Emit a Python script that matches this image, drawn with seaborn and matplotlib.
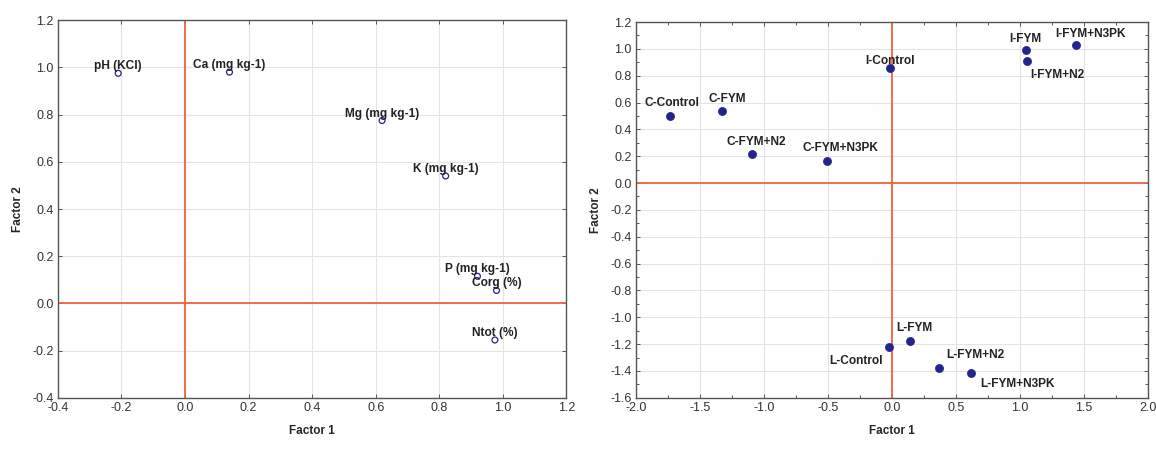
import numpy as np
import pandas as pd
import matplotlib
matplotlib.use("Agg")
import matplotlib.pyplot as plt
import seaborn as sns

# left panel: variable loadings
var_names = ["pH (KCl)", "Ca (mg kg-1)", "Mg (mg kg-1)", "K (mg kg-1)",
             "P (mg kg-1)", "Corg (%)", "Ntot (%)"]
var_f1 = [-0.21, 0.14, 0.62, 0.82, 0.92, 0.98, 0.975]
var_f2 = [0.975, 0.98, 0.775, 0.54, 0.115, 0.055, -0.155]

# right panel: treatment scores
trt_names = ["I-Control", "I-FYM", "I-FYM+N2", "I-FYM+N3PK",
             "C-Control", "C-FYM", "C-FYM+N2", "C-FYM+N3PK",
             "L-Control", "L-FYM", "L-FYM+N2", "L-FYM+N3PK"]
trt_f1 = [-0.015, 1.045, 1.055, 1.44, -1.73, -1.33, -1.09, -0.51,
          -0.02, 0.145, 0.37, 0.62]
trt_f2 = [0.855, 0.99, 0.91, 1.025, 0.50, 0.535, 0.215, 0.165,
          -1.225, -1.175, -1.375, -1.415]

# label offsets in points (dx, dy)
trt_offsets = {
    "I-Control": (0, 5), "I-FYM": (0, 8), "I-FYM+N2": (22, -10),
    "I-FYM+N3PK": (10, 8), "C-Control": (1, 9), "C-FYM": (4, 9),
    "C-FYM+N2": (3, 9), "C-FYM+N3PK": (10, 9), "L-Control": (-24, -10),
    "L-FYM": (3, 9), "L-FYM+N2": (26, 9), "L-FYM+N3PK": (33, -8),
}

sns.set_style("whitegrid", {"grid.color": "#e4e4e4", "axes.edgecolor": "#555555"})
plt.rcParams["font.family"] = ["Liberation Sans", "DejaVu Sans"]

df_var = pd.DataFrame({"f1": var_f1, "f2": var_f2, "name": var_names})
df_trt = pd.DataFrame({"f1": trt_f1, "f2": trt_f2, "name": trt_names})

fig = plt.figure(figsize=(11.56, 4.49), dpi=100)
ax1 = fig.add_axes([0.050, 0.114, 0.440, 0.841])
ax2 = fig.add_axes([0.550, 0.114, 0.443, 0.837])

red = "#f0623e"
navy = "#23238c"

# left
ax1.axhline(0, color=red, lw=1.3, zorder=2)
ax1.axvline(0, color=red, lw=1.3, zorder=2)
sns.scatterplot(data=df_var, x="f1", y="f2", ax=ax1, marker="o", s=18,
                facecolor="none", edgecolor=navy, linewidth=0.9, zorder=3)
for _, r in df_var.iterrows():
    ax1.annotate(r["name"], (r["f1"], r["f2"]), xytext=(0, 5),
                 textcoords="offset points", ha="center", va="center",
                 fontsize=8.6, fontweight="bold", color="#222222")
ax1.set_xlim(-0.4, 1.2)
ax1.set_ylim(-0.4, 1.2)
ax1.set_xticks(np.round(np.arange(-0.4, 1.21, 0.2), 2))
ax1.set_yticks(np.round(np.arange(-0.4, 1.21, 0.2), 2))

# right
ax2.axhline(0, color=red, lw=1.3, zorder=2)
ax2.axvline(0, color=red, lw=1.3, zorder=2)
sns.scatterplot(data=df_trt, x="f1", y="f2", ax=ax2, marker="o", s=34,
                color=navy, edgecolor=navy, linewidth=0.5, zorder=3)
for _, r in df_trt.iterrows():
    ax2.annotate(r["name"], (r["f1"], r["f2"]), xytext=trt_offsets[r["name"]],
                 textcoords="offset points", ha="center", va="center",
                 fontsize=8.6, fontweight="bold", color="#222222")
ax2.set_xlim(-2.0, 2.0)
ax2.set_ylim(-1.6, 1.2)
ax2.set_xticks(np.round(np.arange(-2.0, 2.01, 0.5), 2))
ax2.set_yticks(np.round(np.arange(-1.6, 1.21, 0.2), 2))
ax2.set_xticks(np.arange(-2.0, 2.01, 0.25), minor=True)
ax2.set_yticks(np.arange(-1.6, 1.21, 0.1), minor=True)


def fmt(v, pos):
    return "%.1f" % (0.0 if abs(v) < 1e-9 else v)


for ax in (ax1, ax2):
    ax.xaxis.set_major_formatter(matplotlib.ticker.FuncFormatter(fmt))
    ax.yaxis.set_major_formatter(matplotlib.ticker.FuncFormatter(fmt))
    ax.tick_params(which="both", direction="in", top=True, right=True,
                   bottom=True, left=True, length=3, width=0.7,
                   color="#555555", labelsize=9, labelcolor="#333333", pad=3)
    ax.tick_params(which="minor", length=2)
    ax.grid(which="minor", visible=False)
    ax.set_xlabel("Factor 1", fontsize=8.5, fontweight="bold", labelpad=8)
    ax.set_ylabel("Factor 2", fontsize=8.5, fontweight="bold", labelpad=6)
    for sp in ax.spines.values():
        sp.set_linewidth(1.0)

fig.savefig("out.png", dpi=100)
